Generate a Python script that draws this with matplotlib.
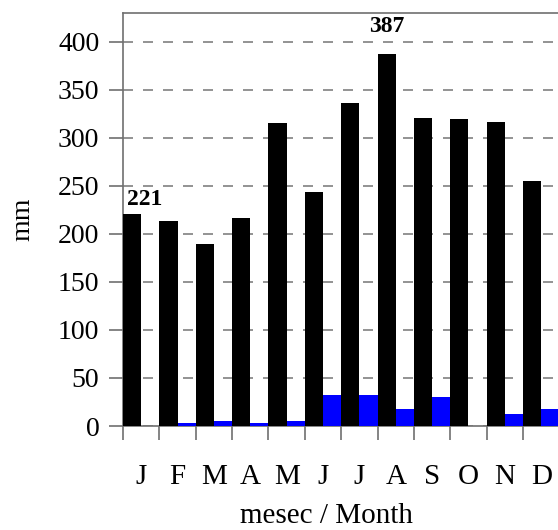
import matplotlib
matplotlib.use("Agg")
import matplotlib.pyplot as plt
import numpy as np

months = ["J", "F", "M", "A", "M", "J", "J", "A", "S", "O", "N", "D"]
# black: precipitation, blue: second series
black_vals = [221, 213, 190, 217, 315, 244, 336, 387, 321, 320, 317, 255]
blue_vals = [0, 3, 5, 3, 5, 32, 32, 18, 30, 0, 12, 18]

plt.rcParams['font.family'] = ['Liberation Serif', 'DejaVu Serif']

fig = plt.figure(figsize=(5.58, 5.30), dpi=100)
ax = fig.add_axes([123 / 558, 104 / 530, 436.4 / 558, 413 / 530])

x = np.arange(len(months))
ax.bar(x, black_vals, width=0.5, align='edge', color='black', zorder=3)
ax.bar(x + 0.5, blue_vals, width=0.5, align='edge', color='#0000ff', zorder=3)

ax.set_xlim(0, 12)
ax.set_ylim(0, 430)
ax.set_yticks(range(0, 401, 50))
ax.yaxis.grid(True, linestyle=(0, (6, 6)), color='#808080', linewidth=1.2, zorder=0)

ax.set_xticks(range(0, 12))
ax.set_xticklabels([])
ax.set_xticks(x + 0.5, minor=True)
ax.set_xticklabels(months, minor=True)
ax.tick_params(axis='x', which='minor', length=0, pad=27, labelsize=21)
ax.tick_params(axis='x', which='major', length=10, color='#707070', width=1.2)
ax.tick_params(axis='y', length=10, color='#707070', width=1.2, labelsize=20, pad=7)

for side in ['left', 'top', 'bottom']:
    ax.spines[side].set_color('#707070')
    ax.spines[side].set_linewidth(1.2)
ax.spines['right'].set_visible(False)

# first month and maximum labels
imax = int(np.argmax(black_vals))
ax.annotate(str(black_vals[0]), (0.25, black_vals[0]), xytext=(9, 3),
            textcoords='offset points', ha='center', va='bottom',
            fontsize=17, fontweight='bold')
ax.annotate(str(black_vals[imax]), (imax + 0.25, 405), xytext=(0, 0),
            textcoords='offset points', ha='center', va='bottom',
            fontsize=17, fontweight='bold')

ax.set_xlabel("mesec / Month", fontsize=21, labelpad=10)
ax.xaxis.label.set_x(0.467)
ax.set_ylabel("mm", fontsize=20, labelpad=16)

fig.savefig("out.png", dpi=100)
